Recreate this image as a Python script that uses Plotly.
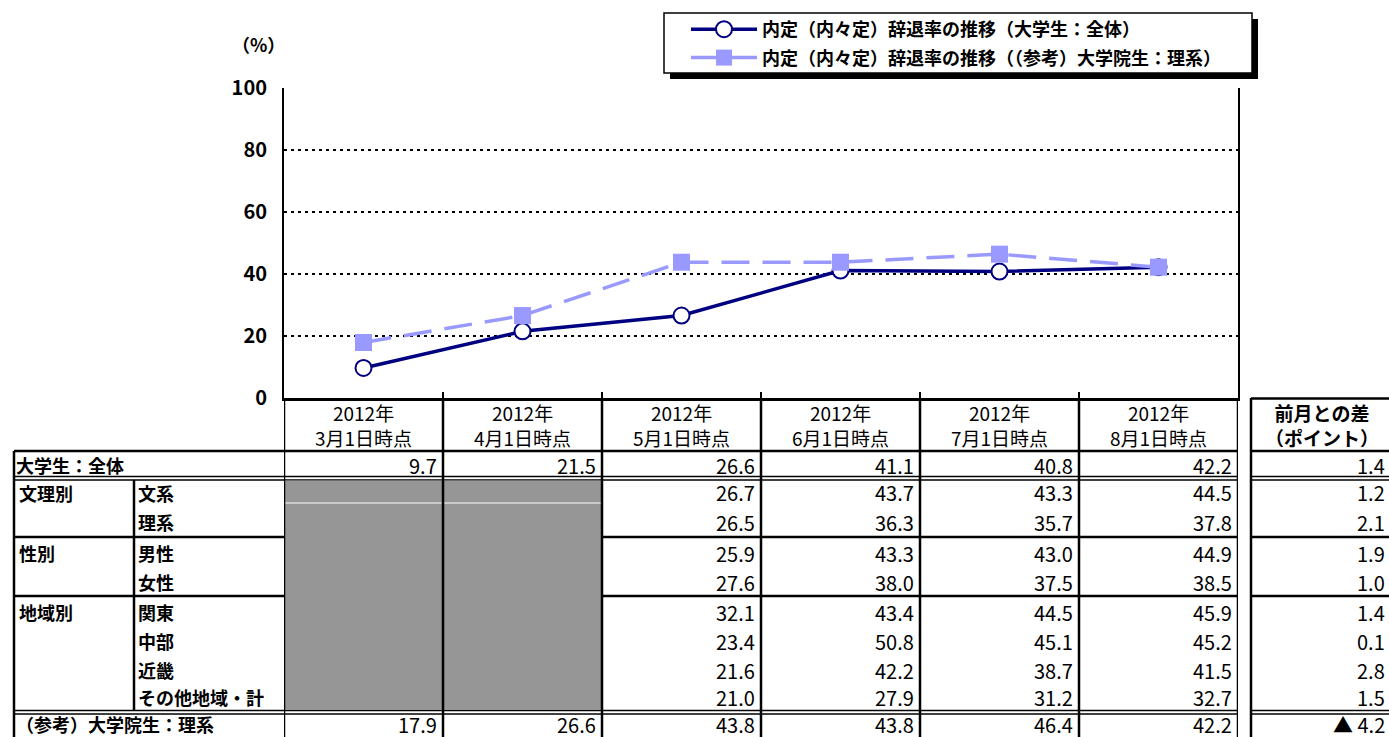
import plotly.graph_objects as go

W, H = 1389, 737

# ---------------- data ----------------
period_year = ["2012年", "2012年", "2012年", "2012年", "2012年", "2012年"]
period_day = ["3月1日時点", "4月1日時点", "5月1日時点", "6月1日時点", "7月1日時点", "8月1日時点"]
overall = [9.7, 21.5, 26.6, 41.1, 40.8, 42.2]
grad_science = [17.9, 26.6, 43.8, 43.8, 46.4, 42.2]
series_names = ["内定（内々定）辞退率の推移（大学生：全体）",
                "内定（内々定）辞退率の推移（（参考）大学院生：理系）"]
y_ticks = [0, 20, 40, 60, 80, 100]

row_groups = ["", "文理別", "", "性別", "", "地域別", "", "", "", ""]
row_labels = ["大学生：全体", "文系", "理系", "男性", "女性", "関東", "中部", "近畿",
              "その他地域・計", "（参考）大学院生：理系"]
bunkei = [None, None, 26.7, 43.7, 43.3, 44.5]
rikei = [None, None, 26.5, 36.3, 35.7, 37.8]
male = [None, None, 25.9, 43.3, 43.0, 44.9]
female = [None, None, 27.6, 38.0, 37.5, 38.5]
kanto = [None, None, 32.1, 43.4, 44.5, 45.9]
chubu = [None, None, 23.4, 50.8, 45.1, 45.2]
kinki = [None, None, 21.6, 42.2, 38.7, 41.5]
other = [None, None, 21.0, 27.9, 31.2, 32.7]
table_rows = [overall, bunkei, rikei, male, female, kanto, chubu, kinki, other, grad_science]
diff_header = ["前月との差", "（ポイント）"]
diff_values = ["1.4", "1.2", "2.1", "1.9", "1.0", "1.4", "0.1", "2.8", "1.5", "▲ 4.2"]

# ---------------- layout helpers (pixel -> paper) ----------------
def px(x):
    return x / W

def py(y):
    return 1 - y / H

FONT = "Noto Sans CJK JP"
x_idx = list(range(len(overall)))

fig = go.Figure()
fig.add_trace(go.Scatter(
    x=x_idx, y=overall, name=series_names[0], legendgroup="a",
    mode="lines+markers",
    line=dict(color="#000080", width=3.5),
    marker=dict(symbol="circle", size=16, color="white",
                line=dict(color="#000080", width=2)),
))
fig.add_trace(go.Scatter(
    x=x_idx, y=grad_science, name=series_names[1], legendgroup="b",
    mode="lines+markers",
    line=dict(color="#9999FF", width=3.5, dash="28px,13px"),
    marker=dict(symbol="square", size=17, color="#9999FF",
                line=dict(color="#9999FF", width=0)),
))

shapes = []
LW = 2.5
BL = "black"

def hline(y, x0, x1, w=LW, color=BL):
    shapes.append(dict(type="line", xref="paper", yref="paper",
                       x0=px(x0), x1=px(x1), y0=py(y), y1=py(y),
                       line=dict(color=color, width=w)))

def vline(x, y0, y1, w=LW, color=BL):
    shapes.append(dict(type="line", xref="paper", yref="paper",
                       x0=px(x), x1=px(x), y0=py(y0), y1=py(y1),
                       line=dict(color=color, width=w)))

# legend box with shadow
shapes.append(dict(type="rect", xref="paper", yref="paper",
                   x0=px(670), x1=px(1258), y0=py(19), y1=py(79),
                   fillcolor="black", line=dict(width=0)))
shapes.append(dict(type="rect", xref="paper", yref="paper",
                   x0=px(664), x1=px(1252), y0=py(13), y1=py(73),
                   fillcolor="white", line=dict(color="black", width=1.5)))

TL, TR = 14, 1238
RL, RR = 1251, 1395
# horizontal lines of the table
for (y, w) in [(451, LW), (476.5, 1.5), (480, 1.5), (537, LW), (596, LW), (710.5, 1.5), (714, 1.5)]:
    hline(y, TL, TR, w)
    hline(y, RL, RR, w)
hline(398.5, RL, RR, LW)

# gray blocks for unavailable data
shapes.append(dict(type="rect", xref="x", yref="paper",
                   x0=-0.5, x1=1.5, y0=py(480.5), y1=py(710),
                   fillcolor="#969696", line=dict(width=0)))
shapes.append(dict(type="line", xref="x", yref="paper",
                   x0=-0.5, x1=1.5, y0=py(503), y1=py(503),
                   line=dict(color="white", width=1)))

# vertical lines
vline(TL, 451, 740)
vline(134, 480, 711)
for b in [-0.5, 0.5, 1.5, 2.5, 3.5, 4.5, 5.5]:
    shapes.append(dict(type="line", xref="x", yref="paper",
                       x0=b, x1=b, y0=py(398), y1=py(740),
                       line=dict(color=BL, width=LW)))
vline(RL, 398, 740)

annotations = []

def ann(text, x, y, xanchor="left", size=17, xref="paper", xshift=0):
    annotations.append(dict(text=text, x=x, y=py(y), xref=xref, yref="paper",
                            xanchor=xanchor, yanchor="middle", showarrow=False,
                            xshift=xshift, borderpad=0,
                            font=dict(family=FONT, size=size, color="black")))

# (%) label
ann("<b>（%）</b>", px(231), 44, size=18)

# header row
for i in x_idx:
    ann(period_year[i] + "<br>" + period_day[i], i, 425, xanchor="center", size=19, xref="x")
ann("<b>" + diff_header[0] + "<br>" + diff_header[1] + "</b>", px(1322), 425,
    xanchor="center", size=19)

row_y = [465, 493, 522, 553, 582, 612, 641, 670, 697, 724]
for r, (g, lab, vals, d) in enumerate(zip(row_groups, row_labels, table_rows, diff_values)):
    yy = row_y[r]
    last = r == len(row_labels) - 1
    if r == 0 or last:
        ann("<b>" + lab + "</b>", px(15), yy, size=18)
    else:
        if g:
            ann("<b>" + g + "</b>", px(18), yy, size=18)
        ann("<b>" + lab + "</b>", px(137), yy, size=18)
    for i, v in enumerate(vals):
        if v is None:
            continue
        ann(f"{v:.1f}", i + 0.5, yy, xanchor="right", size=20, xref="x", xshift=-5)
    ann(d, px(1386), yy, xanchor="right", size=20)

fig.update_layout(
    width=W, height=H, autosize=False,
    margin=dict(l=0, r=0, t=0, b=0, pad=0),
    paper_bgcolor="white", plot_bgcolor="white",
    font=dict(family=FONT, color="black"),
    showlegend=True,
    legend=dict(x=px(686), y=py(11), xanchor="left", yanchor="top",
                bgcolor="rgba(0,0,0,0)", borderwidth=0,
                font=dict(family=FONT, size=18, color="black", weight=700),
                itemwidth=66, tracegroupgap=2, traceorder="grouped"),
    xaxis=dict(domain=[px(284), px(1238)], range=[-0.5, 5.5], automargin=False,
               showgrid=False, zeroline=False,
               showline=True, linecolor="black", linewidth=3,
               tickvals=[0.5, 1.5, 2.5, 3.5, 4.5], ticks="inside", ticklen=6,
               tickwidth=1.5, tickcolor="black", showticklabels=False),
    yaxis=dict(domain=[py(398), py(88)], range=[0, 100], automargin=False,
               tickvals=y_ticks, showgrid=True, gridcolor="black", gridwidth=1.5,
               griddash="3px,4px", zeroline=False,
               showline=True, linecolor="black", linewidth=2, mirror=True,
               ticks="", ticklabelstandoff=11,
               tickfont=dict(family=FONT, size=20, color="black", weight=700)),
    shapes=shapes,
    annotations=annotations,
)

fig.write_html("out.html", config={"displayModeBar": False},
               post_script="document.body.style.margin='0px';")
